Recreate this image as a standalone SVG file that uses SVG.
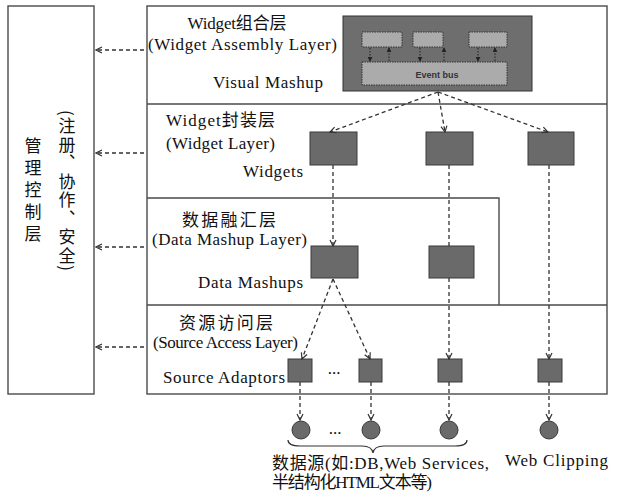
<svg xmlns="http://www.w3.org/2000/svg" width="623" height="498" viewBox="0 0 623 498">
<style>
.frame{fill:none;stroke:#4a4a4a;stroke-width:1.4}
.box{fill:#6a6a6a;stroke:#3a3a3a;stroke-width:1}
.lite{fill:#ababab;stroke:#333;stroke-width:1;stroke-dasharray:1.5,1}
.dash{fill:none;stroke:#333;stroke-width:1.3;stroke-dasharray:4,3}
.sm{fill:none;stroke:#222;stroke-width:1;stroke-dasharray:1.5,1.5}
.t{font-family:"Liberation Serif","Noto Sans CJK SC",serif;font-size:17px;fill:#111}
.cjk{font-family:"Noto Sans CJK SC",sans-serif;font-size:17px;fill:#111}
</style>
<defs>
<marker id="ah" viewBox="0 0 8 8" refX="7" refY="4" markerWidth="8" markerHeight="8" markerUnits="userSpaceOnUse" orient="auto">
<path d="M1,1 L7,4 L1,7" fill="none" stroke="#333" stroke-width="1.2"/>
</marker>
<marker id="sah" viewBox="0 0 6 6" refX="5" refY="3" markerWidth="5" markerHeight="5" markerUnits="userSpaceOnUse" orient="auto">
<path d="M0,0 L6,3 L0,6 Z" fill="#222"/>
</marker>
</defs>

<g id="management">
<rect class="frame" x="8" y="6" width="86" height="388"/>
<text class="cjk" x="33" y="137" style="writing-mode:vertical-rl;letter-spacing:5px" font-size="18">管理控制层</text>
<text class="cjk" x="67" y="110" style="writing-mode:vertical-rl;letter-spacing:1.5px">(注册、协作、安全)</text>
</g>

<g id="main-frame">
<rect class="frame" x="147" y="6" width="460" height="388"/>
<line class="frame" x1="147" y1="104" x2="607" y2="104"/>
<line class="frame" x1="147" y1="305" x2="607" y2="305"/>
<polyline class="frame" points="147,198 499,198 499,305"/>
</g>

<g id="assembly-layer">
<text class="t" x="237" y="29" text-anchor="middle" textLength="99" font-size="18">Widget组合层</text>
<text class="t" x="148" y="50" textLength="189" font-size="18">(Widget Assembly Layer)</text>
<text class="t" x="268" y="88" text-anchor="middle" textLength="110" font-size="18">Visual Mashup</text>
</g>

<g id="visual-mashup">
<rect x="343" y="16" width="189" height="75" fill="#6e6e6e" stroke="#333" stroke-width="1"/>
<rect class="lite" x="362" y="32" width="40" height="15"/>
<rect class="lite" x="413" y="32" width="30" height="15"/>
<rect class="lite" x="469" y="32" width="38" height="15"/>
<rect class="lite" x="362" y="62" width="145" height="23"/>
<text x="437" y="78" text-anchor="middle" font-family="Liberation Sans, sans-serif" font-size="9" font-weight="bold" fill="#333">Event bus</text>
<line class="sm" x1="370" y1="48" x2="370" y2="61" marker-end="url(#sah)"/>
<line class="sm" x1="389" y1="61" x2="389" y2="48" marker-end="url(#sah)"/>
<line class="sm" x1="420" y1="48" x2="420" y2="61" marker-end="url(#sah)"/>
<line class="sm" x1="444" y1="61" x2="444" y2="48" marker-end="url(#sah)"/>
<line class="sm" x1="478" y1="48" x2="478" y2="61" marker-end="url(#sah)"/>
<line class="sm" x1="495" y1="61" x2="495" y2="48" marker-end="url(#sah)"/>
</g>

<g id="widget-layer">
<text class="t" x="166" y="126" textLength="109" font-size="17">Widget封装层</text>
<text class="t" x="166" y="149" textLength="109" font-size="18">(Widget Layer)</text>
<text class="t" x="243" y="177" textLength="60" font-size="18">Widgets</text>
</g>
<g id="widget1"><rect class="box" x="310" y="132" width="47" height="33"/></g>
<g id="widget2"><rect class="box" x="426" y="132" width="47" height="33"/></g>
<g id="widget3"><rect class="box" x="528" y="132" width="46" height="33"/></g>

<g id="data-mashup-layer">
<text class="t" x="182" y="226" textLength="94" font-size="17">数据融汇层</text>
<text class="t" x="152" y="245" textLength="155" font-size="18">(Data Mashup Layer)</text>
<text class="t" x="198" y="288" textLength="105" font-size="18">Data Mashups</text>
</g>
<g id="datamashup1"><rect class="box" x="311" y="246" width="47" height="32"/></g>
<g id="datamashup2"><rect class="box" x="429" y="246" width="45" height="32"/></g>

<g id="source-layer">
<text class="t" x="179" y="329" textLength="94" font-size="17">资源访问层</text>
<text class="t" x="153" y="348" textLength="145" font-size="17">(Source Access Layer)</text>
<text class="t" x="163" y="383" textLength="122" font-size="18">Source Adaptors</text>
<text class="t" x="334" y="374" text-anchor="middle" font-size="14">...</text>
</g>
<g id="adaptor1"><rect class="box" x="288" y="359" width="24" height="23"/></g>
<g id="adaptor2"><rect class="box" x="359" y="359" width="23" height="23"/></g>
<g id="adaptor3"><rect class="box" x="438" y="359" width="24" height="23"/></g>
<g id="adaptor4"><rect class="box" x="538" y="359" width="24" height="23"/></g>

<g id="sources">
<circle class="box" cx="301" cy="430" r="9"/>
<circle class="box" cx="371" cy="430" r="9"/>
<circle class="box" cx="449" cy="430" r="9"/>
<circle class="box" cx="549" cy="430" r="9"/>
<text class="t" x="335" y="434" text-anchor="middle" font-size="14">...</text>
<path d="M288,440 Q288,446 300,446 L362,446 Q372,446 373,453 Q374,446 384,446 L455,446 Q467,446 467,440" fill="none" stroke="#333" stroke-width="1.2"/>
<text class="t" x="272" y="469" textLength="217" font-size="18">数据源(如:DB,Web Services,</text>
<text class="t" x="272" y="488" textLength="160" font-size="18">半结构化HTML文本等)</text>
<text class="t" x="505" y="466" textLength="103" font-size="18">Web Clipping</text>
</g>

<g id="connectors">
<line class="dash" x1="144" y1="50" x2="96" y2="50" marker-end="url(#ah)"/>
<line class="dash" x1="144" y1="153" x2="96" y2="153" marker-end="url(#ah)"/>
<line class="dash" x1="144" y1="247" x2="96" y2="247" marker-end="url(#ah)"/>
<line class="dash" x1="144" y1="347" x2="96" y2="347" marker-end="url(#ah)"/>
<line class="dash" x1="438" y1="92" x2="330" y2="132" marker-end="url(#ah)"/>
<line class="dash" x1="438" y1="92" x2="445" y2="132" marker-end="url(#ah)"/>
<line class="dash" x1="438" y1="92" x2="548" y2="132" marker-end="url(#ah)"/>
<line class="dash" x1="333" y1="165" x2="333" y2="246" marker-end="url(#ah)"/>
<line class="dash" x1="449" y1="165" x2="449" y2="246"/>
<line class="dash" x1="449" y1="278" x2="449" y2="359" marker-end="url(#ah)"/>
<line class="dash" x1="549" y1="165" x2="549" y2="359" marker-end="url(#ah)"/>
<line class="dash" x1="333" y1="279" x2="302" y2="359" marker-end="url(#ah)"/>
<line class="dash" x1="333" y1="279" x2="370" y2="359" marker-end="url(#ah)"/>
<line class="dash" x1="300" y1="382" x2="300" y2="420" marker-end="url(#ah)"/>
<line class="dash" x1="371" y1="382" x2="371" y2="420" marker-end="url(#ah)"/>
<line class="dash" x1="449" y1="382" x2="449" y2="420" marker-end="url(#ah)"/>
<line class="dash" x1="549" y1="382" x2="549" y2="420" marker-end="url(#ah)"/>
</g>
</svg>
